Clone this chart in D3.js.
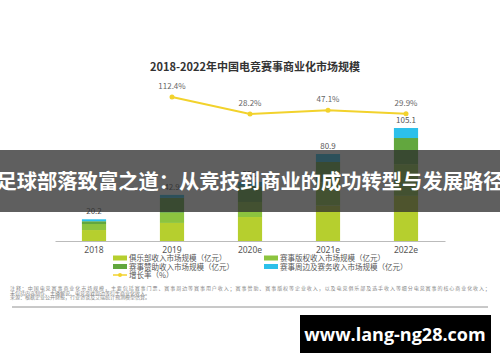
<!DOCTYPE html>
<html>
<head>
<meta charset="utf-8">
<script src="https://cdn.jsdelivr.net/npm/d3@7"></script>
<style>
  html, body { margin: 0; padding: 0; background: #fff; }
  svg { display: block; font-family: "Noto Sans CJK SC", "Noto Sans", sans-serif; }
</style>
</head>
<body>
<svg id="chart" width="500" height="362"></svg>
<script>
const years = ["2018", "2019", "2020e", "2021e", "2022e"];
const clubRev = [10.2, 16.8, 22.3, 33.0, 42.0];
const rightsRev = [5.6, 9.4, 14.0, 21.5, 29.5];
const sponsorRev = [2.6, 13.9, 14.6, 19.0, 24.3];
const merchRev = [1.8, 2.8, 4.1, 7.4, 9.3];
const totals = [20.2, 42.9, 55.0, 80.9, 105.1];
const growth = [null, 112.4, 28.2, 47.1, 29.9];

const seriesNames = [
  "俱乐部收入市场规模（亿元）",
  "赛事版权收入市场规模（亿元）",
  "赛事赞助收入市场规模（亿元）",
  "赛事周边及赛务收入市场规模（亿元）"
];
const colors = ["#b6cf2e", "#8cc43f", "#62a73e", "#2cc0ea"];
const lineColor = "#f2d22c";

const notes = [
  "注释：中国电竞赛事商业化市场规模，主要包括赛事门票、赛事周边等赛事用户收入；赛事赞助、赛事版权等企业收入，以及电竞俱乐部及选手收入等细分电竞赛事的核心商业化收入；",
  "未包括内容制作、主播解说、电竞游戏周边等衍生商业化收入。",
  "来源：根据企业公开财报，行业访谈及艾瑞统计预测模型估算。"
];

const svg = d3.select("#chart");

const table = years.map((y, i) => ({
  year: y, club: clubRev[i], rights: rightsRev[i], sponsor: sponsorRev[i], merch: merchRev[i]
}));
const keys = ["club", "rights", "sponsor", "merch"];
const stacked = d3.stack().keys(keys)(table);

const x = d3.scaleBand()
  .domain(years)
  .range([55, 445])
  .paddingInner(0.69)
  .paddingOuter(0.345);

const y = d3.scaleLinear().domain([0, 120]).range([241, 112]);
const yRate = d3.scaleLinear().domain([0, 120]).range([119.7, 95.5]);

// title
svg.append("text")
  .attr("x", 255).attr("y", 71)
  .attr("text-anchor", "middle")
  .attr("font-size", "11px")
  .attr("font-weight", "bold")
  .attr("fill", "#333")
  .text("2018-2022年中国电竞赛事商业化市场规模");

// bars
svg.append("g").selectAll("g")
  .data(stacked)
  .join("g")
  .attr("fill", (d, i) => colors[i])
  .selectAll("rect")
  .data(d => d)
  .join("rect")
  .attr("x", d => x(d.data.year))
  .attr("y", d => y(d[1]))
  .attr("width", x.bandwidth())
  .attr("height", d => y(d[0]) - y(d[1]));

// totals
svg.append("g").selectAll("text")
  .data(totals)
  .join("text")
  .attr("x", (d, i) => x(years[i]) + x.bandwidth() / 2)
  .attr("y", d => y(d) - 5)
  .attr("text-anchor", "middle")
  .attr("font-size", "8px")
  .attr("fill", "#555")
  .text(d => d.toFixed(1));

// x axis
const xAxis = svg.append("g")
  .attr("transform", "translate(0,241)")
  .call(d3.axisBottom(x).tickSize(0).tickPadding(6));
xAxis.select(".domain").attr("stroke", "#bbb");
xAxis.selectAll("text")
  .attr("font-size", "8.5px")
  .attr("fill", "#555")
  .attr("font-family", "'Noto Sans', sans-serif");

// growth line
const rateData = growth.map((g, i) => ({ year: years[i], g })).filter(d => d.g !== null);
const cx = d => x(d.year) + x.bandwidth() / 2;

svg.append("path")
  .datum(rateData)
  .attr("fill", "none")
  .attr("stroke", lineColor)
  .attr("stroke-width", 2)
  .attr("d", d3.line().x(cx).y(d => yRate(d.g)));

svg.append("g").selectAll("circle")
  .data(rateData)
  .join("circle")
  .attr("cx", cx)
  .attr("cy", d => yRate(d.g))
  .attr("r", 2.5)
  .attr("fill", lineColor);

svg.append("g").selectAll("text")
  .data(rateData)
  .join("text")
  .attr("x", cx)
  .attr("y", d => yRate(d.g) - 8)
  .attr("text-anchor", "middle")
  .attr("font-size", "8px")
  .attr("fill", "#666")
  .text(d => d.g.toFixed(1) + "%");

// legend
const legendPos = [[113, 258], [264, 258], [113, 266.5], [264, 266.5]];
const legend = svg.append("g");
seriesNames.forEach((name, i) => {
  const [lx, ly] = legendPos[i];
  legend.append("rect")
    .attr("x", lx).attr("y", ly - 2.5)
    .attr("width", 14).attr("height", 5)
    .attr("fill", colors[i]);
  legend.append("text")
    .attr("x", lx + 16).attr("y", ly + 3)
    .attr("font-size", "7.5px")
    .attr("fill", "#555")
    .text(name);
});
legend.append("line")
  .attr("x1", 113).attr("x2", 127).attr("y1", 275).attr("y2", 275)
  .attr("stroke", lineColor).attr("stroke-width", 1.5);
legend.append("circle")
  .attr("cx", 120).attr("cy", 275).attr("r", 2)
  .attr("fill", lineColor);
legend.append("text")
  .attr("x", 129).attr("y", 278)
  .attr("font-size", "7.5px")
  .attr("fill", "#555")
  .text("增长率（%）");

// notes
svg.append("g").selectAll("text")
  .data(notes)
  .join("text")
  .attr("x", 10)
  .attr("y", (d, i) => 290 + i * 4.7)
  .attr("font-size", "5px")
  .attr("fill", "#888")
  .attr("textLength", (d, i) => i === 0 ? 480 : null)
  .text(d => d);

svg.append("line")
  .attr("x1", 12).attr("x2", 488)
  .attr("y1", 307).attr("y2", 307)
  .attr("stroke", "#777").attr("stroke-width", 0.8);

// overlay banner
svg.append("rect")
  .attr("x", 0).attr("y", 150)
  .attr("width", 500).attr("height", 62)
  .attr("fill", "rgba(45,45,45,0.76)");
svg.append("text")
  .attr("x", 250).attr("y", 189)
  .attr("text-anchor", "middle")
  .attr("font-size", "20.3px")
  .attr("font-weight", "bold")
  .attr("fill", "#fff")
  .text("足球部落致富之道：从竞技到商业的成功转型与发展路径");

// watermark
svg.append("rect")
  .attr("x", 300).attr("y", 315)
  .attr("width", 191).attr("height", 38)
  .attr("fill", "#000");
svg.append("text")
  .attr("x", 395).attr("y", 340.5)
  .attr("text-anchor", "middle")
  .attr("font-size", "18px")
  .attr("font-weight", "bold")
  .attr("fill", "#fff")
  .attr("font-family", "'Open Sans', 'Noto Sans', sans-serif")
  .text("www.lang-ng28.com");
</script>
</body>
</html>
